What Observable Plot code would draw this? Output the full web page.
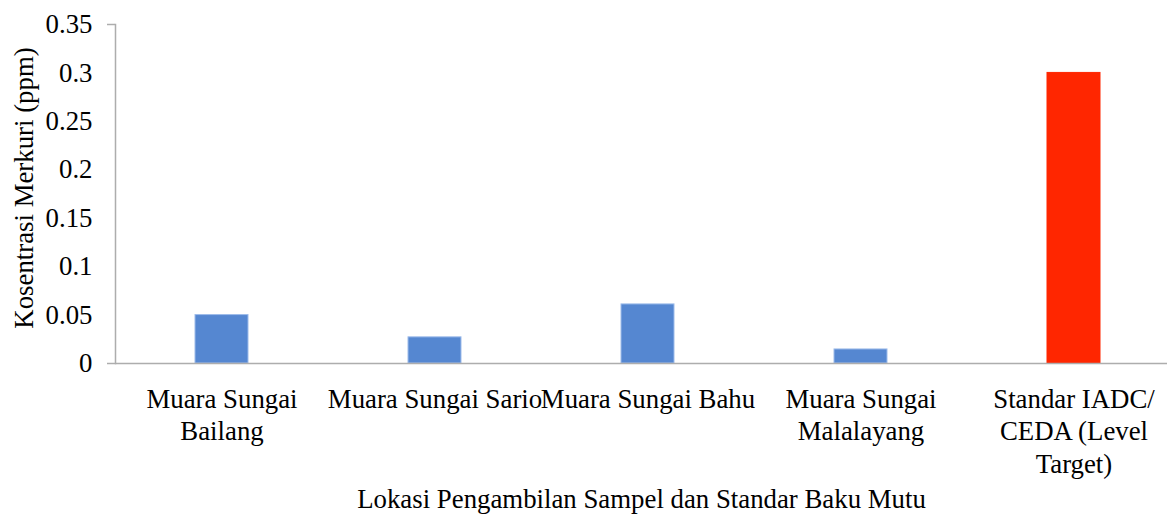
<!DOCTYPE html>
<html>
<head>
<meta charset="utf-8">
<script src="https://cdn.jsdelivr.net/npm/d3@7"></script>
<script src="https://cdn.jsdelivr.net/npm/@observablehq/plot@0.6"></script>
<style>
  html, body { margin: 0; padding: 0; background: white; }
</style>
</head>
<body>
<div id="chart"></div>
<script>
const locations = [
  "Muara Sungai Bailang",
  "Muara Sungai Sario",
  "Muara Sungai Bahu",
  "Muara Sungai Malalayang",
  "Standar IADC/CEDA (Level Target)"
];
const xTickLabels = [
  "Muara Sungai\nBailang",
  "Muara Sungai Sario",
  "Muara Sungai Bahu",
  "Muara Sungai\nMalalayang",
  "Standar IADC/\nCEDA (Level\nTarget)"
];
const mercury = [0.05, 0.027, 0.061, 0.0145, 0.30];
const yTicks = [0, 0.05, 0.1, 0.15, 0.2, 0.25, 0.3, 0.35];
const yTickLabels = ["0", "0.05", "0.1", "0.15", "0.2", "0.25", "0.3", "0.35"];
const standardLocation = "Standar IADC/CEDA (Level Target)";
const xTitle = "Lokasi Pengambilan Sampel dan Standar Baku Mutu";
const yTitle = "Kosentrasi Merkuri (ppm)";

const data = locations.map((location, i) => ({location, value: mercury[i]}));

const serif = '"Liberation Serif", "Times New Roman", serif';
const fs = 26.8;
const blue = "#5587d1";
const blueEdge = "#9dbbea";
const red = "#ff2600";
const grey = "#adadad";

const chart = Plot.plot({
  width: 1167,
  height: 515,
  marginLeft: 115,
  marginRight: 0,
  marginTop: 24,
  marginBottom: 152,
  style: {
    fontFamily: serif,
    fontSize: fs + "px",
    background: "white",
    color: "black"
  },
  x: {domain: locations, range: [115, 1180], paddingInner: 0.75, paddingOuter: 0.375},
  y: {domain: [0, 0.35]},
  marks: [
    Plot.barY(data, {
      x: "location",
      y: "value",
      fill: d => d.location === standardLocation ? red : blue,
      stroke: d => d.location === standardLocation ? red : blueEdge,
      strokeWidth: 1
    }),
    Plot.ruleY([0], {stroke: grey, strokeWidth: 1.5}),
    Plot.frame({anchor: "left", stroke: grey, strokeWidth: 1.5}),
    Plot.axisY({ticks: [0, 0.35], tickSize: 8, text: null, stroke: grey, strokeWidth: 1.5, label: null}),
    Plot.axisY({
      ticks: yTicks,
      tickSize: 0,
      tickPadding: 23,
      tickFormat: d => yTickLabels[yTicks.indexOf(d)],
      fontSize: fs,
      fontFamily: serif,
      fill: "black",
      label: null
    }),
    Plot.axisX({
      tickSize: 0,
      tickPadding: 22,
      tickFormat: d => xTickLabels[locations.indexOf(d)],
      fontSize: fs,
      fontFamily: serif,
      lineHeight: 1.2,
      fill: "black",
      label: null
    }),
    Plot.text([xTitle], {
      text: d => d,
      frameAnchor: "bottom",
      textAnchor: "middle",
      lineAnchor: "middle",
      dy: 136,
      fontSize: fs,
      fontFamily: serif,
      fill: "black"
    }),
    Plot.text([yTitle], {
      text: d => d,
      frameAnchor: "left",
      textAnchor: "middle",
      lineAnchor: "middle",
      rotate: -90,
      dx: -91,
      dy: -6,
      fontSize: fs,
      fontFamily: serif,
      fill: "black"
    })
  ]
});

document.getElementById("chart").appendChild(chart);
</script>
</body>
</html>
